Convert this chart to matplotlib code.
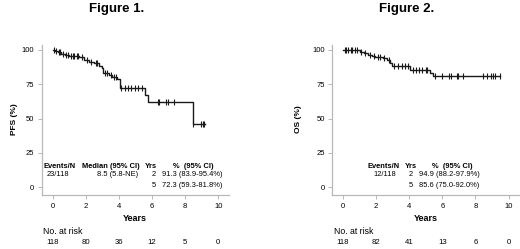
import numpy as np
import matplotlib
matplotlib.use("Agg")
import matplotlib.pyplot as plt
from matplotlib.transforms import blended_transform_factory

plt.rcParams['font.family'] = ['Liberation Sans', 'DejaVu Sans']

# ---- data ----
pfs_times = [0, 0.15, 0.3, 0.5, 0.75, 1.0, 1.6, 1.9, 2.2, 2.5, 2.8, 2.95, 3.05, 3.4, 3.6, 3.9, 4.05, 5.6, 5.77, 8.45, 9.2]
pfs_surv = [100, 99.2, 98.3, 97.4, 96.5, 95.6, 94.7, 93.0, 91.3, 90.4, 88.6, 86.8, 83.5, 82.0, 80.5, 78.6, 72.3, 67.0, 62.0, 46.1, 46.1]
pfs_censor = [0.1, 0.2, 0.35, 0.45, 0.6, 0.8, 0.9, 1.1, 1.2, 1.3, 1.45, 1.55, 1.75, 2.05, 2.3, 2.6, 2.7,
              3.15, 3.25, 3.5, 3.7, 3.8, 4.15, 4.35, 4.55, 4.75, 4.95, 5.15, 5.4, 6.35, 6.45, 6.85, 6.95,
              7.3, 8.45, 8.95, 9.05, 9.15]

os_times = [0, 1.04, 1.24, 1.5, 1.75, 1.95, 2.4, 2.65, 2.85, 2.95, 4.05, 5.26, 5.46, 9.5]
os_surv = [100, 98.8, 97.6, 96.6, 95.7, 94.9, 93.9, 93.0, 90.8, 88.2, 85.6, 83.2, 80.8, 80.8]
os_censor = [0.1, 0.2, 0.3, 0.45, 0.55, 0.7, 0.85, 1.1, 1.35, 1.6, 1.85, 2.1, 2.25, 2.5, 2.75, 3.1, 3.3,
             3.55, 3.75, 3.9, 4.2, 4.4, 4.6, 4.8, 5.0, 5.1, 5.56, 5.96, 6.42, 6.52, 6.86, 6.96, 7.27,
             8.47, 8.67, 8.93, 9.04, 9.17, 9.48]

risk_years = [0, 2, 4, 6, 8, 10]
pfs_risk = [118, 80, 36, 12, 5, 0]
os_risk = [118, 82, 41, 13, 6, 0]

xticks = [0, 2, 4, 6, 8, 10]
yticks = [0, 25, 50, 75, 100]

W, H = 520, 249
fig = plt.figure(figsize=(W / 100, H / 100), dpi=100)

spine_c = '#b8b8b8'
line_c = '#1a1a1a'


def surv_at(times, surv, t):
    idx = np.searchsorted(np.asarray(times), t, side='right') - 1
    return np.asarray(surv)[idx]


def make_panel(left_px, title, ylabel, ylabel_x, times, surv, censor, risk, title_x, years_x, nar_x):
    ax = fig.add_axes([left_px / W, 1 - 195 / H, 187 / W, 150 / H])
    ax.set_xlim(-0.65, 10.65)
    ax.set_ylim(-5.6, 103.6)
    ax.step(times, surv, where='post', color=line_c, lw=1.0)
    cy = surv_at(times, surv, np.asarray(censor))
    ax.plot(censor, cy, ls='none', marker='|', ms=5, mew=0.8, color=line_c)
    for s in ['top', 'right']:
        ax.spines[s].set_visible(False)
    for s in ['left', 'bottom']:
        ax.spines[s].set_color(spine_c)
        ax.spines[s].set_linewidth(0.9)
    ax.set_xticks(xticks)
    ax.set_yticks(yticks)
    ax.tick_params(axis='both', colors=spine_c, labelcolor='black', labelsize=5.5,
                   length=3, width=0.7, pad=2.5)
    fig.text(title_x / W, 1 - 9 / H, title, ha='center', va='center', fontsize=9.5, fontweight='bold')
    fig.text(ylabel_x / W, 1 - 119 / H, ylabel, ha='center', va='center', rotation=90,
             fontsize=6, fontweight='bold')
    fig.text(years_x / W, 1 - 218 / H, 'Years', ha='center', va='center', fontsize=6.5, fontweight='bold')
    fig.text(nar_x / W, 1 - 231 / H, 'No. at risk', ha='left', va='center', fontsize=6.3)
    tr = blended_transform_factory(ax.transData, fig.transFigure)
    for x, n in zip(risk_years, risk):
        ax.text(x, 1 - 242 / H, str(n), transform=tr, ha='center', va='center', fontsize=5.6)
    return ax


ax1 = make_panel(42, 'Figure 1.', 'PFS (%)', 14, pfs_times, pfs_surv, pfs_censor, pfs_risk, 117, 135, 43)
ax2 = make_panel(332.3, 'Figure 2.', 'OS (%)', 298, os_times, os_surv, os_censor, os_risk, 407, 426, 334)

fs = 5.4
# table left
ax1.text(-0.57, 15, 'Events/N', fontsize=fs, fontweight='bold', va='center', ha='left')
ax1.text(1.75, 15, 'Median (95% CI)', fontsize=fs, fontweight='bold', va='center', ha='left')
ax1.text(5.57, 15, 'Yrs', fontsize=fs, fontweight='bold', va='center', ha='left')
ax1.text(7.27, 15, '%  (95% CI)', fontsize=fs, fontweight='bold', va='center', ha='left')
ax1.text(0.32, 9, '23/118', fontsize=fs, va='center', ha='center')
ax1.text(3.94, 9, '8.5 (5.8-NE)', fontsize=fs, va='center', ha='center')
ax1.text(6.1, 9, '2', fontsize=fs, va='center', ha='center')
ax1.text(6.62, 9, '91.3 (83.9-95.4%)', fontsize=fs, va='center', ha='left')
ax1.text(6.1, 1, '5', fontsize=fs, va='center', ha='center')
ax1.text(6.62, 1, '72.3 (59.3-81.8%)', fontsize=fs, va='center', ha='left')

# table right
ax2.text(1.45, 15, 'Events/N', fontsize=fs, fontweight='bold', va='center', ha='left')
ax2.text(3.71, 15, 'Yrs', fontsize=fs, fontweight='bold', va='center', ha='left')
ax2.text(5.36, 15, '%  (95% CI)', fontsize=fs, fontweight='bold', va='center', ha='left')
ax2.text(2.55, 9, '12/118', fontsize=fs, va='center', ha='center')
ax2.text(4.1, 9, '2', fontsize=fs, va='center', ha='center')
ax2.text(4.61, 9, '94.9 (88.2-97.9%)', fontsize=fs, va='center', ha='left')
ax2.text(4.1, 1, '5', fontsize=fs, va='center', ha='center')
ax2.text(4.61, 1, '85.6 (75.0-92.0%)', fontsize=fs, va='center', ha='left')

fig.savefig('out.png', dpi=100)
